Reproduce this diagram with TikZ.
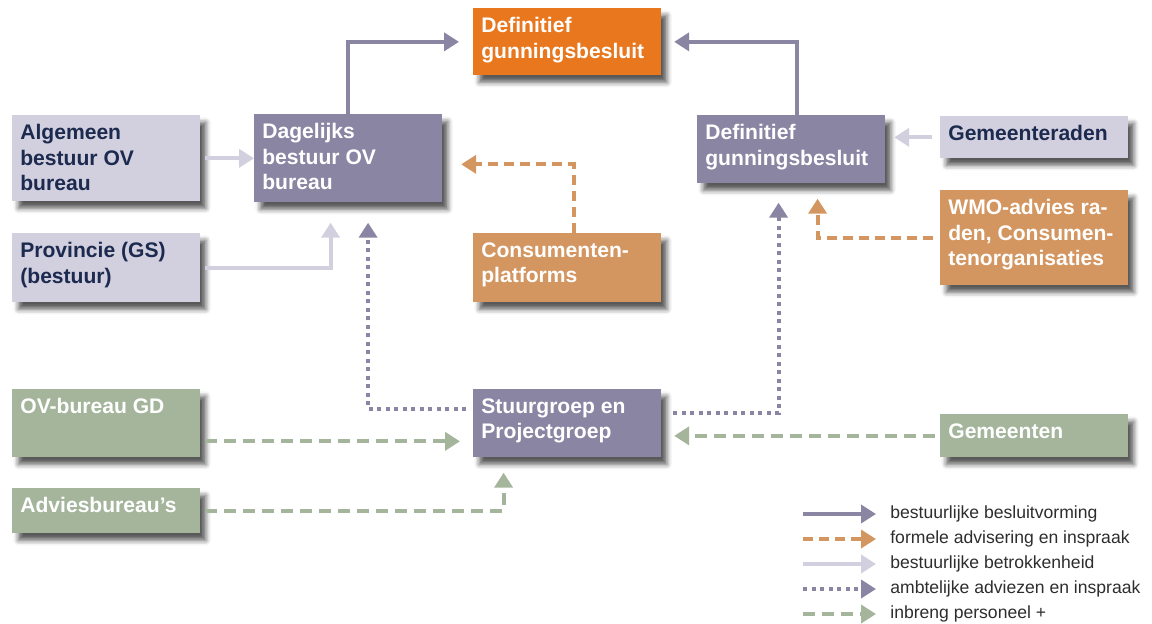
\documentclass[tikz,border=0pt]{standalone}
\usepackage{fontspec}
\setmainfont{Liberation Sans}
\usetikzlibrary{arrows.meta,shadows.blur}

\definecolor{govorange}{RGB}{232,119,30}
\definecolor{boardpurple}{RGB}{137,133,163}
\definecolor{lightlav}{RGB}{210,207,222}
\definecolor{advtan}{RGB}{212,150,96}
\definecolor{staffgreen}{RGB}{164,181,156}
\definecolor{navytext}{RGB}{27,42,78}
\definecolor{legendtext}{RGB}{45,45,45}

% top aligned text inside a box of fixed height
\newcommand{\boxtext}[2]{\parbox[t][#1][t]{3.43cm}{\raggedright #2}}

\begin{document}
\begin{tikzpicture}[
            x=0.02cm, y=-0.02cm,
            orgbox/.style={anchor=north west, inner xsep=0.16cm, inner ysep=0.18cm,
                font=\bfseries\fontsize{12}{14.5}\selectfont,
                blur shadow={shadow xshift=0.12cm, shadow yshift=-0.14cm,
                    shadow blur radius=0.1cm, shadow opacity=65}},
            darkbox/.style={orgbox, fill=boardpurple, text=white},
            palebox/.style={orgbox, fill=lightlav, text=navytext},
            tanbox/.style={orgbox, fill=advtan, text=white},
            greenbox/.style={orgbox, fill=staffgreen, text=white},
            link/.style={line width=0.08cm, -{Triangle[length=0.3cm, width=0.36cm]}},
            govline/.style={link, draw=boardpurple},
            advline/.style={link, draw=advtan, dash pattern=on 0.2cm off 0.12cm},
            involvline/.style={link, draw=lightlav},
            offline/.style={link, draw=boardpurple, dash pattern=on 0.08cm off 0.09cm},
            staffline/.style={link, draw=staffgreen, dash pattern=on 0.24cm off 0.14cm},
            legendlabel/.style={anchor=west, inner xsep=0.28cm, inner ysep=0pt,
                text=legendtext, font=\fontsize{10}{12}\selectfont}
        ]
            \useasboundingbox (0,0) rectangle (1152,623);

            \node[orgbox, fill=govorange, text=white] (top) at (473,8) {\boxtext{0.98cm}{Definitief\\gunningsbesluit}};
            \node[palebox] (alg) at (12,115) {\boxtext{1.36cm}{Algemeen\\bestuur OV\\bureau}};
            \node[darkbox] (dag) at (254,114) {\boxtext{1.40cm}{Dagelijks\\bestuur OV\\bureau}};
            \node[palebox] (prov) at (12,233) {\boxtext{1.02cm}{Provincie (GS)\\(bestuur)}};
            \node[tanbox] (cons) at (473,233) {\boxtext{1.02cm}{Consumenten-\\platforms}};
            \node[darkbox] (rdef) at (697,115) {\boxtext{1.00cm}{Definitief\\gunningsbesluit}};
            \node[palebox] (graad) at (940,116) {\boxtext{0.48cm}{Gemeenteraden}};
            \node[tanbox] (wmo) at (940,190) {\boxtext{1.54cm}{WMO-advies ra-\\den, Consumen-\\tenorganisaties}};
            \node[greenbox] (ovb) at (12,389) {\boxtext{1.00cm}{OV-bureau GD}};
            \node[darkbox] (stu) at (473,389) {\boxtext{1.00cm}{Stuurgroep en\\Projectgroep}};
            \node[greenbox] (gmt) at (940,414) {\boxtext{0.50cm}{Gemeenten}};
            \node[greenbox] (adv) at (12,488) {\boxtext{0.54cm}{Adviesbureau's}};

            % besluitvorming
            \draw[govline, shorten >=0.28cm] (dag.north) |- (top.west);
            \draw[govline, shorten >=0.26cm] ([xshift=0.11cm]rdef.north) |- (top.east);

            % betrokkenheid
            \draw[involvline, shorten <=0.1cm] (alg.east) -- (alg.east -| dag.west);
            \draw[involvline, shorten <=0.1cm, shorten >=0.4cm] (prov.east) -| ([xshift=-0.35cm]dag.south);
            \draw[involvline, shorten <=0.16cm, shorten >=0.18cm] (graad.west) -- (graad.west -| rdef.east);

            % advisering en inspraak
            \draw[advline, shorten >=0.38cm] ([xshift=0.13cm]cons.north) |- ([yshift=-0.12cm]dag.east);
            \draw[advline, shorten <=0.14cm, shorten >=0.3cm] (wmo.west) -| ([xshift=0.53cm]rdef.south);

            % ambtelijke adviezen
            \draw[offline, shorten <=0.14cm, shorten >=0.4cm] ([yshift=0.28cm]stu.west) -| ([xshift=0.4cm]dag.south);
            \draw[offline, shorten <=0.24cm, shorten >=0.38cm] ([yshift=0.2cm]stu.east) -| ([xshift=-0.25cm]rdef.south);

            % inbreng personeel
            \coordinate (ovbout) at ([yshift=-0.36cm]ovb.east);
            \draw[staffline, shorten <=0.1cm, shorten >=0.26cm] (ovbout) -- (ovbout -| stu.west);
            \draw[staffline, shorten <=0.1cm, shorten >=0.26cm] (gmt.west) -- (gmt.west -| stu.east);
            \draw[staffline, shorten <=0.1cm, shorten >=0.3cm] (adv.east) -| ([xshift=-1.27cm]stu.south);

            % legenda
            \node[legendlabel] (leg1) at (876,514) {bestuurlijke besluitvorming};
            \node[legendlabel] (leg2) at (876,539) {formele advisering en inspraak};
            \node[legendlabel] (leg3) at (876,564) {bestuurlijke betrokkenheid};
            \node[legendlabel] (leg4) at (876,589) {ambtelijke adviezen en inspraak};
            \node[legendlabel] (leg5) at (876,614) {inbreng personeel +};
            \coordinate (ls1) at (803,514);
            \coordinate (ls2) at (803,539);
            \coordinate (ls3) at (803,564);
            \coordinate (ls4) at (803,589);
            \coordinate (ls5) at (803,614);
            \draw[govline] (ls1) -- (leg1.west);
            \draw[advline] (ls2) -- (leg2.west);
            \draw[involvline] (ls3) -- (leg3.west);
            \draw[offline] (ls4) -- (leg4.west);
            \draw[staffline] (ls5) -- (leg5.west);
        \end{tikzpicture}
\end{document}
